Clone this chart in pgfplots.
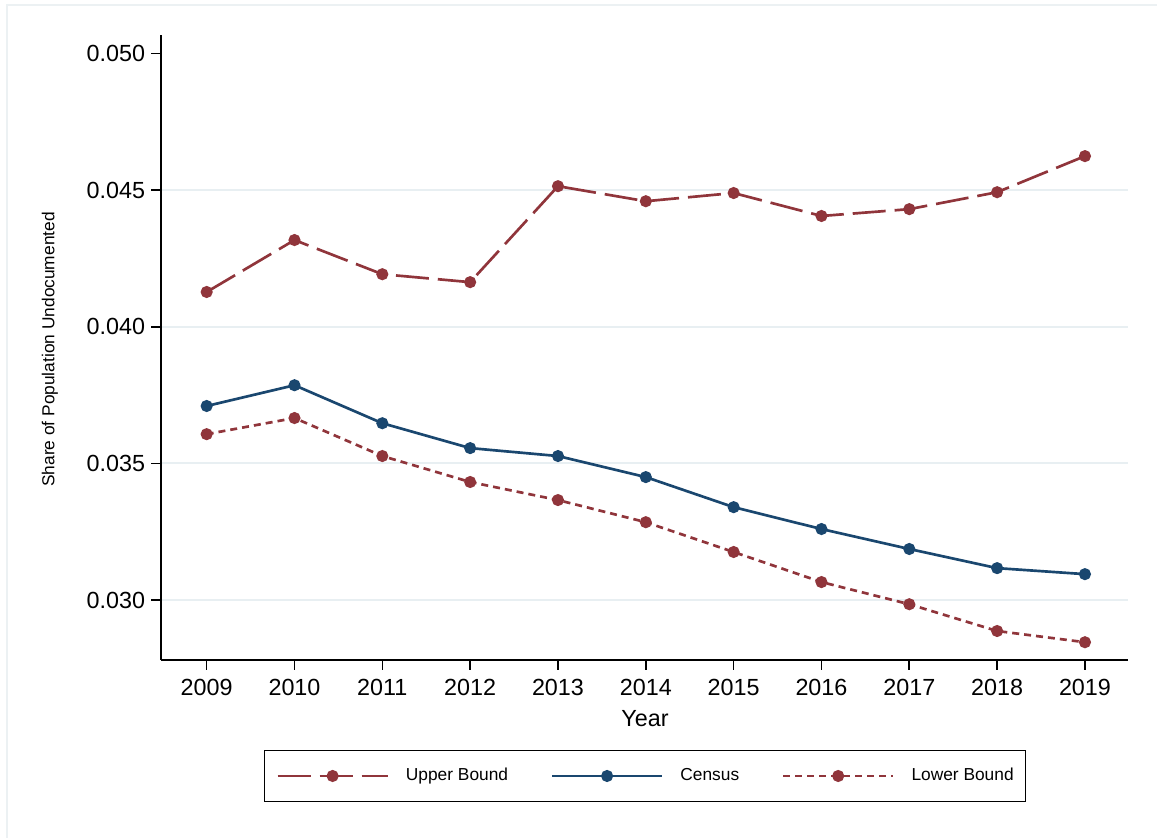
\documentclass[border=0pt]{standalone}
\usepackage{pgfplots}
\pgfplotsset{compat=1.18}
\usepackage{fontspec}
\setmainfont{Liberation Sans}

\definecolor{sMaroon}{RGB}{144,53,59}
\definecolor{sNavy}{RGB}{26,71,111}
\definecolor{sGrid}{RGB}{232,239,242}
\definecolor{sFrame}{RGB}{236,241,243}

\begin{document}
\begin{tikzpicture}
% fixed page frame (1 px = 0.75pt)
\path[use as bounding box] (-120.75pt,-133.5pt) rectangle (747pt,495pt);
\draw[sFrame, line width=0.8pt] (-115.5pt,-133.5pt) -- (-115.5pt,491.25pt) -- (747pt,491.25pt);

\begin{axis}[
  at={(0,0)}, anchor=south west,
  scale only axis,
  width=725.25pt, height=468.75pt,
  xmin=2008.48, xmax=2019.49,
  ymin=0.02781, ymax=0.05067,
  scaled y ticks=false,
  axis x line*=bottom, axis y line*=left,
  axis line style={black, line width=1.2pt},
  every tick/.style={black, line width=1.2pt},
  tick align=outside,
  major tick length=7.5pt,
  xtick={2009,2010,...,2019},
  xticklabels={2009,2010,2011,2012,2013,2014,2015,2016,2017,2018,2019},
  ytick={0.030,0.035,0.040,0.045},
  yticklabels={0.030,0.035,0.040,0.045},
  extra y ticks={0.050},
  extra y tick labels={0.050},
  extra y tick style={grid=none},
  ymajorgrids,
  major grid style={sGrid, line width=1.4pt},
  /pgf/number format/assume math mode=true,
  ticklabel style={font=\fontsize{17.5}{21}\selectfont},
  yticklabel style={xshift=-1pt},
  xticklabel style={yshift=-3pt},
  xlabel={Year},
  ylabel={Share of Population Undocumented},
  every axis x label/.style={at={(axis description cs:0.5005,-0.0935)}, anchor=center, font=\fontsize{17.5}{21}\selectfont},
  every axis y label/.style={at={(axis description cs:-0.1150,0.4968)}, rotate=90, anchor=center, font=\fontsize{13}{16}\selectfont},
  legend columns=3,
  legend style={
    at={(axis description cs:0.5005,-0.1856)}, anchor=center,
    draw=black, line width=1.1pt, fill=white,
    inner xsep=9pt, inner ysep=13pt,
    font=\fontsize{13}{16}\selectfont,
    nodes={inner sep=0pt, text height=9.5pt, text depth=2.5pt},
    /tikz/every odd column/.append style={column sep=12.75pt},
    /tikz/every even column/.append style={column sep=32pt},
  },
  legend image code/.code={
    \draw[mark repeat=2, mark phase=2, #1]
      plot coordinates {(0pt,0pt) (41.25pt,0pt) (82.5pt,0pt)};
  },
  every axis plot/.append style={line width=2pt, mark=*, mark size=3.5pt},
]

% upper bound
\addplot[sMaroon, mark options={solid, fill=sMaroon, draw=sMaroon}, dash pattern=on 24.75pt off 6.75pt]
  coordinates {
  (2009,0.04127) (2010,0.04317) (2011,0.04192) (2012,0.04163) (2013,0.04514)
  (2014,0.04459) (2015,0.04489) (2016,0.04405) (2017,0.04430) (2018,0.04492)
  (2019,0.04624)};
\addlegendentry{Upper Bound}

% census estimate
\addplot[sNavy, mark options={solid, fill=sNavy, draw=sNavy}]
  coordinates {
  (2009,0.03710) (2010,0.03786) (2011,0.03647) (2012,0.03556) (2013,0.03527)
  (2014,0.03450) (2015,0.03340) (2016,0.03260) (2017,0.03187) (2018,0.03117)
  (2019,0.03095)};
\addlegendentry{Census}

% lower bound
\addplot[sMaroon, mark options={solid, fill=sMaroon, draw=sMaroon}, dash pattern=on 5.25pt off 3.75pt]
  coordinates {
  (2009,0.03607) (2010,0.03666) (2011,0.03527) (2012,0.03432) (2013,0.03366)
  (2014,0.03285) (2015,0.03176) (2016,0.03066) (2017,0.02985) (2018,0.02887)
  (2019,0.02846)};
\addlegendentry{Lower Bound}

\end{axis}
\end{tikzpicture}
\end{document}
